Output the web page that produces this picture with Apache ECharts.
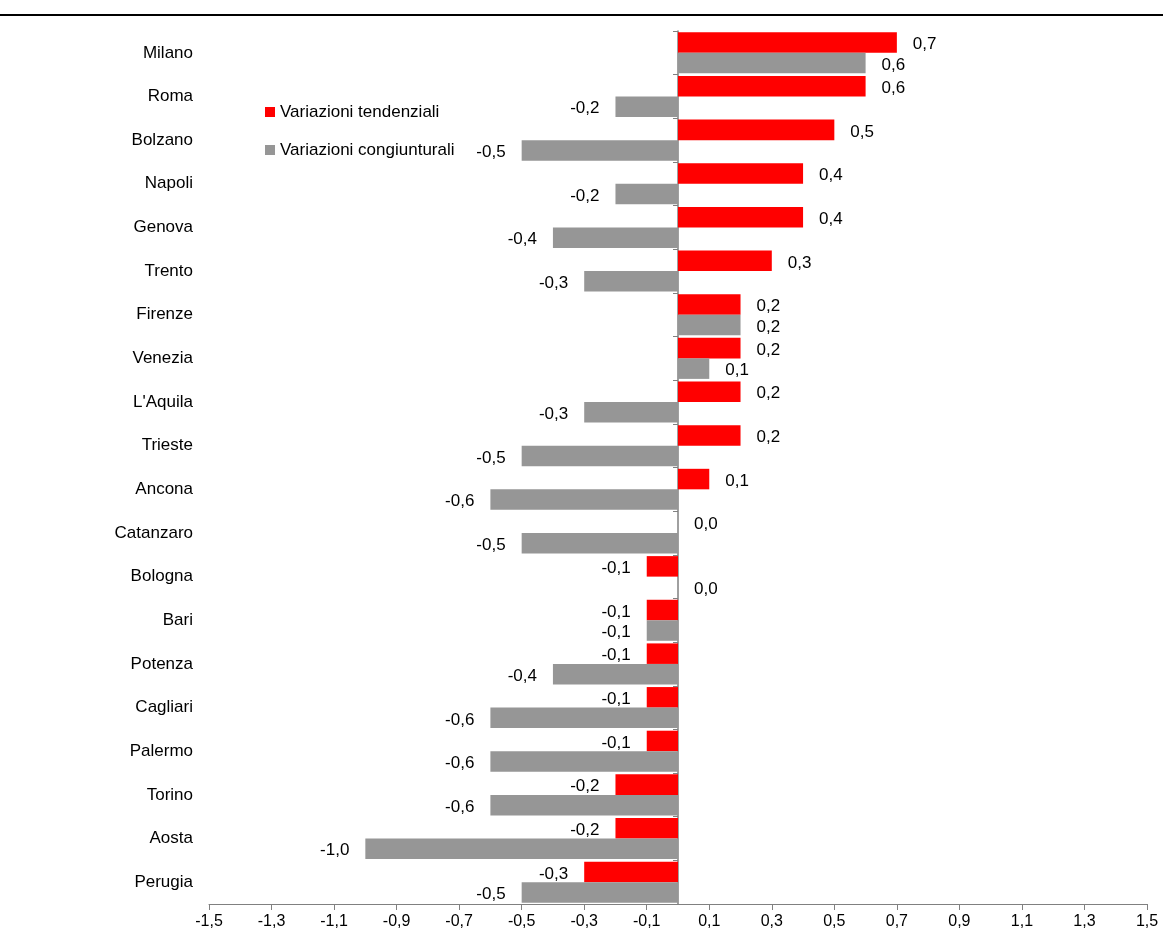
<!DOCTYPE html>
<html><head><meta charset="utf-8">
<script src="https://cdn.jsdelivr.net/npm/echarts@6/dist/echarts.min.js"></script>
<style>html,body{margin:0;padding:0;background:#fff}#c{width:1163px;height:943px}</style>
</head><body><div id="c"></div>
<script>
const categories = ["Milano","Roma","Bolzano","Napoli","Genova","Trento","Firenze","Venezia","L'Aquila","Trieste","Ancona","Catanzaro","Bologna","Bari","Potenza","Cagliari","Palermo","Torino","Aosta","Perugia"];
const tendenziali = [0.7,0.6,0.5,0.4,0.4,0.3,0.2,0.2,0.2,0.2,0.1,0.0,-0.1,-0.1,-0.1,-0.1,-0.1,-0.2,-0.2,-0.3];
const congiunturali = [0.6,-0.2,-0.5,-0.2,-0.4,-0.3,0.2,0.1,-0.3,-0.5,-0.6,-0.5,0.0,-0.1,-0.4,-0.6,-0.6,-0.6,-1.0,-0.5];
const seriesNames = ["Variazioni tendenziali","Variazioni congiunturali"];

const FONT = "'Liberation Sans', Arial, sans-serif";
const fmt = v => v.toFixed(1).replace('.', ',');
const toData = arr => arr.map(v => ({
  value: v,
  label: { position: v < 0 ? 'left' : 'right' }
}));

const chart = echarts.init(document.getElementById('c'), null, {renderer:'canvas'});
chart.setOption({
  animation: false,
  backgroundColor: '#fff',
  textStyle: { fontFamily: FONT },
  graphic: [{
    type: 'line', shape: { x1: 0, y1: 15, x2: 1163, y2: 15 },
    style: { stroke: '#000', lineWidth: 2 }
  }],
  legend: {
    orient: 'vertical', left: 260, top: 98,
    itemWidth: 10, itemHeight: 10, itemGap: 20,
    icon: 'rect',
    itemStyle: { borderWidth: 0 },
    textStyle: { fontFamily: FONT, fontSize: 17, color: '#000', lineHeight: 18 },
    data: seriesNames
  },
  grid: { left: 209, right: 16, top: 31, bottom: 39, containLabel: false },
  xAxis: {
    type: 'value', min: -1.5, max: 1.5, interval: 0.2,
    axisLine: { show: true, lineStyle: { color: '#808080', width: 1 } },
    axisTick: { show: true, length: 6, lineStyle: { color: '#808080' } },
    splitLine: { show: false },
    axisLabel: { color: '#000', fontSize: 16, fontFamily: FONT, margin: 10, formatter: v => fmt(v) }
  },
  yAxis: [{
    type: 'category', data: categories, inverse: true,
    axisLine: { show: false, onZero: false },
    axisTick: { show: false },
    axisLabel: { color: '#000', fontSize: 17, fontFamily: FONT, margin: 16 }
  }, {
    type: 'category', data: categories, inverse: true, position: 'left',
    axisLine: { show: true, onZero: true, lineStyle: { color: '#808080', width: 1.5 } },
    axisTick: { show: true, length: 5, lineStyle: { color: '#808080' } },
    axisLabel: { show: false }
  }],
  series: [{
    name: seriesNames[0], type: 'bar', yAxisIndex: 0,
    data: toData(tendenziali),
    barGap: '0%', barCategoryGap: '6%',
    itemStyle: { color: '#FF0000' },
    label: { show: true, distance: 16, offset: [0, 2], color: '#000', fontSize: 17, fontFamily: FONT, formatter: p => fmt(p.value) }
  }, {
    name: seriesNames[1], type: 'bar', yAxisIndex: 0,
    data: toData(congiunturali),
    barGap: '0%', barCategoryGap: '6%',
    itemStyle: { color: '#969696' },
    label: { show: true, distance: 16, offset: [0, 2], color: '#000', fontSize: 17, fontFamily: FONT, formatter: p => fmt(p.value) }
  }]
});
</script></body></html>
